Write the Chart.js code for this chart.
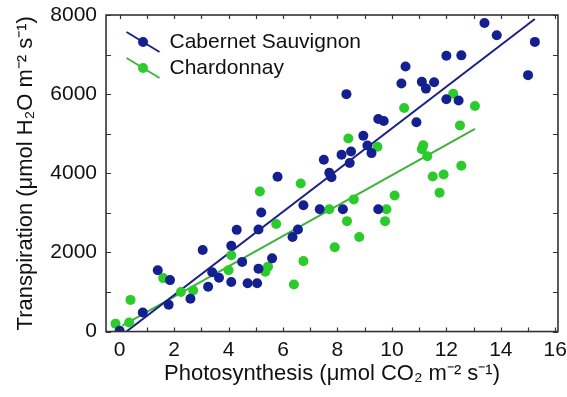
<!DOCTYPE html>
<html>
<head>
<meta charset="utf-8">
<script src="https://cdn.jsdelivr.net/npm/chart.js@4"></script>
<style>
html,body{margin:0;padding:0;background:#fff}
canvas{display:block}
</style>
</head>
<body>
<canvas id="c" width="567" height="397"></canvas>
<script>
// ---- data ----
const seriesNames = ['Cabernet Sauvignon', 'Chardonnay'];

const cabX = [0.0, 0.85, 1.4, 1.85, 1.8, 2.6, 3.05, 3.25, 3.4, 3.65, 4.1, 4.1, 4.3, 4.5, 4.7, 5.05, 5.1, 5.2, 5.1, 5.6,
              5.8, 6.35, 6.55, 6.75, 7.35, 7.5, 7.7, 7.78, 8.2, 8.15, 8.33, 8.45, 8.5, 8.95, 9.1, 9.25, 9.5, 9.5, 9.7,
              10.35, 10.5, 10.9, 11.1, 11.25, 11.55, 12.0, 12.0, 12.45, 12.55, 13.4, 13.85, 15.0, 15.25];
const cabY = [20, 480, 1550, 1300, 680, 830, 2060, 1130, 1500, 1360, 1250, 2170, 2570, 1760, 1220, 1220, 1590, 3010, 2580, 1850,
              3910, 2390, 2580, 3190, 3090, 4340, 4010, 3900, 3090, 4470, 6000, 4260, 4550, 4950, 4700, 4510, 3090, 5370, 5320,
              6270, 6700, 5290, 6310, 6140, 6300, 6970, 5870, 5840, 6980, 7800, 7490, 6480, 7320];

const chardX = [-0.15, 0.35, 0.4, 1.6, 2.25, 2.7, 4.0, 4.1, 5.15, 5.35, 5.45, 5.75, 6.4, 6.65, 6.75, 7.7, 7.9, 8.35, 8.4, 8.6,
                8.8, 9.47, 9.75, 9.8, 10.1, 10.45, 11.1, 11.15, 11.3, 11.5, 11.75, 11.9, 12.25, 12.5, 12.55, 13.05];
const chardY = [200, 230, 800, 1350, 1000, 1040, 1550, 1930, 3540, 1510, 1640, 2720, 1190, 3740, 1780, 3090, 2130, 2790, 4880, 3340,
                2390, 4670, 2790, 3090, 3440, 5650, 4610, 4710, 4430, 3920, 3510, 3970, 6010, 5210, 4190, 5700];

// regression lines (end points)
const cabFitX = [0.25, 15.25];
const cabFitY = [0, 7900];
const chardFitX = [0.1, 13.05];
const chardFitY = [150, 5120];

// axis ticks
const xTickValues = [0,1,2,3,4,5,6,7,8,9,10,11,12,13,14,15,16];
const xTickLabels = [0,2,4,6,8,10,12,14,16];
const yTickValues = [0,1000,2000,3000,4000,5000,6000,7000,8000];
const yTickLabels = [0,2000,4000,6000,8000];

const xTitle = 'Photosynthesis (\u03BCmol CO\u2082 m\u207B\u00B2 s\u207B\u00B9)';
const yTitle = 'Transpiration (\u03BCmol H\u2082O m\u207B\u00B2 s\u207B\u00B9)';

// ---- style ----
const FONT = '"Liberation Sans", Arial, Helvetica, sans-serif';
const TXT = '#111';
const BLUE = '#14208f';
const BLUE_LINE = '#1c1f86';
const GREEN = '#2ccb2c';
const GREEN_LINE = '#3cb43c';

const pts = (xs, ys) => xs.map((x, i) => ({x: x, y: ys[i]}));

function legendIcon(lineColor, pointColor) {
  const c = document.createElement('canvas');
  c.width = 64; c.height = 26;
  const g = c.getContext('2d');
  const cx = 40, cy = 13;
  g.strokeStyle = lineColor; g.lineWidth = 2;
  g.beginPath(); g.moveTo(cx - 16.5, cy - 10); g.lineTo(cx + 16.5, cy + 10); g.stroke();
  g.fillStyle = pointColor;
  g.beginPath(); g.arc(cx, cy, 5, 0, Math.PI * 2); g.fill();
  return c;
}
const icons = [legendIcon(BLUE_LINE, BLUE), legendIcon(GREEN_LINE, GREEN)];

const framePlugin = {
  id: 'frameTicks',
  afterDatasetsDraw(chart) {
    const {ctx, chartArea: a, scales} = chart;
    const x = scales.x, y = scales.y;
    ctx.save();
    ctx.strokeStyle = '#333';
    ctx.lineWidth = 1.2;
    ctx.beginPath();
    x.ticks.forEach(t => {
      const px = Math.round(x.getPixelForValue(t.value)) + 0.5;
      ctx.moveTo(px, a.bottom); ctx.lineTo(px, a.bottom - 4);
      ctx.moveTo(px, a.top); ctx.lineTo(px, a.top + 4);
    });
    y.ticks.forEach(t => {
      const py = Math.round(y.getPixelForValue(t.value)) + 0.5;
      ctx.moveTo(a.left, py); ctx.lineTo(a.left + 5, py);
      ctx.moveTo(a.right, py); ctx.lineTo(a.right - 5, py);
    });
    ctx.stroke();
    ctx.lineWidth = 1.6;
    ctx.strokeRect(a.left, a.top, a.right - a.left, a.bottom - a.top);
    ctx.restore();
  }
};

new Chart(document.getElementById('c'), {
  type: 'scatter',
  data: {
    datasets: [
      {label: seriesNames[0], data: pts(cabX, cabY), backgroundColor: BLUE, borderColor: BLUE, pointRadius: 5, pointBorderWidth: 0, showLine: false},
      {label: seriesNames[1], data: pts(chardX, chardY), backgroundColor: GREEN, borderColor: GREEN, pointRadius: 5, pointBorderWidth: 0, showLine: false},
      {label: 'fit1', data: pts(cabFitX, cabFitY), borderColor: BLUE_LINE, borderWidth: 2, pointRadius: 0, showLine: true, fill: false},
      {label: 'fit2', data: pts(chardFitX, chardFitY), borderColor: GREEN_LINE, borderWidth: 2, pointRadius: 0, showLine: true, fill: false}
    ]
  },
  options: {
    responsive: false,
    animation: false,
    events: [],
    layout: {padding: {left: 0, top: 15, right: 9, bottom: 0}},
    plugins: {
      tooltip: {enabled: false},
      legend: {
        position: 'chartArea',
        align: 'start',
        title: {display: true, text: ' ', font: {size: 1}, padding: {top: 0, bottom: 25.3}},
        labels: {
          usePointStyle: true,
          pointStyleWidth: 48,
          padding: 5,
          color: TXT,
          font: {family: FONT, size: 21},
          generateLabels: () => seriesNames.map((n, i) => ({
            text: n, pointStyle: icons[i], datasetIndex: i, hidden: false,
            fillStyle: 'transparent', strokeStyle: 'transparent', lineWidth: 0, fontColor: TXT
          }))
        }
      }
    },
    scales: {
      x: {
        type: 'linear', min: -0.5, max: 16.1,
        afterBuildTicks: s => { s.ticks = xTickValues.map(v => ({value: v})); },
        grid: {display: false, drawTicks: false},
        border: {display: false},
        ticks: {autoSkip: false, maxRotation: 0, padding: 0, color: TXT, font: {family: FONT, size: 21, lineHeight: 1.76},
                callback: v => xTickLabels.includes(v) ? String(v) : ''},
        title: {display: true, text: xTitle, color: TXT, font: {family: FONT, size: 22, lineHeight: 0.5}, padding: {top: 0, bottom: 17.5}}
      },
      y: {
        type: 'linear', min: 0, max: 8000,
        afterBuildTicks: s => { s.ticks = yTickValues.map(v => ({value: v})); },
        grid: {display: false, drawTicks: false},
        border: {display: false},
        ticks: {autoSkip: false, padding: 9, color: TXT, font: {family: FONT, size: 21, lineHeight: 0.4},
                callback: v => yTickLabels.includes(v) ? String(v) : ''},
        title: {display: true, text: yTitle, color: TXT, font: {family: FONT, size: 22}, padding: {top: 12.8, bottom: 2.1}}
      }
    }
  },
  plugins: [framePlugin]
});
</script>
</body>
</html>
